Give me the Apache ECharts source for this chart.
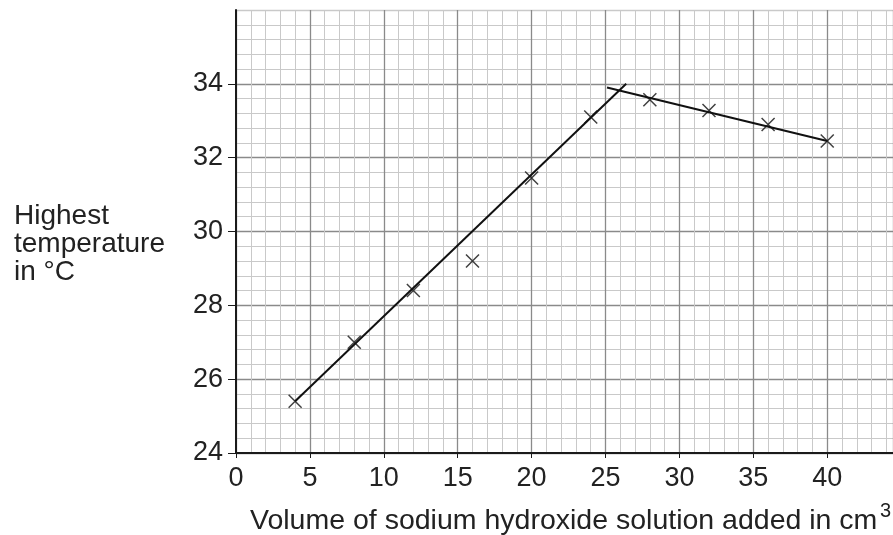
<!DOCTYPE html>
<html><head><meta charset="utf-8">
<script src="https://cdn.jsdelivr.net/npm/echarts@6/dist/echarts.min.js"></script>
<style>html,body{margin:0;padding:0;background:#fff}#c{width:893px;height:535px}</style>
</head><body><div id="c"></div>
<script>
// Measured points
const volumes = [4, 8, 12, 16, 20, 24, 28, 32, 36, 40];
const temps = [25.4, 27.0, 28.4, 29.2, 31.45, 33.1, 33.57, 33.28, 32.9, 32.45];
// Best-fit lines drawn by hand
const line1X = [4, 26.4];
const line1Y = [25.4, 34.0];
const line2X = [25.1, 40];
const line2Y = [33.9, 32.45];
const xTitle = 'Volume of sodium hydroxide solution added in cm';
const xTitleSup = '3';
const yTitle = ['Highest', 'temperature', 'in °C'];

const chart = echarts.init(document.getElementById('c'), null, {renderer: 'canvas'});
const font = 'Liberation Sans, Arial, sans-serif';
const xMax = 44.45, yMin = 24, yMax = 36;
const crossPath = 'path://M0,0L10,10M10,0L0,10';
const major = '#8a8a8a', minor = '#c9c9c9';

chart.setOption({
  animation: false,
  grid: {left: 236, right: 0, top: 10, bottom: 82, containLabel: false},
  xAxis: [
    {type: 'value', min: 0, max: xMax, interval: 1, position: 'bottom',
     axisLine: {show: false}, axisTick: {show: false}, axisLabel: {show: false},
     splitLine: {show: true, lineStyle: {color: minor, width: 1}}},
    {type: 'value', min: 0, max: xMax, interval: 5, position: 'bottom',
     axisLine: {show: true, onZero: false, lineStyle: {color: '#1a1a1a', width: 2}},
     axisTick: {show: true, length: 5, lineStyle: {color: '#1a1a1a', width: 1}},
     axisLabel: {show: true, color: '#222', fontSize: 27, fontFamily: font, margin: 12,
       showMaxLabel: false},
     splitLine: {show: true, lineStyle: {color: major, width: 1.3}}}
  ],
  yAxis: [
    {type: 'value', min: yMin, max: yMax, interval: 0.4,
     axisLine: {show: false}, axisTick: {show: false}, axisLabel: {show: false},
     splitLine: {show: true, lineStyle: {color: minor, width: 1}}},
    {type: 'value', min: yMin, max: yMax, interval: 2, position: 'left',
     axisLine: {show: true, onZero: false, lineStyle: {color: '#1a1a1a', width: 2}},
     axisTick: {show: true, length: 8, lineStyle: {color: '#1a1a1a', width: 1}},
     axisLabel: {show: true, color: '#222', fontSize: 27, fontFamily: font, margin: 13,
       showMaxLabel: false},
     splitLine: {show: true, lineStyle: {color: [major, major, major, major, major, major, minor], width: 1.3}}}
  ],
  graphic: [
    {type: 'text', x: 14, y: 202, style: {text: yTitle.join('\n'), fontSize: 28,
      fontFamily: font, fill: '#222', lineHeight: 28, verticalAlign: 'top'}},
    {type: 'text', x: 250, y: 521, style: {text: xTitle, fontSize: 28.5,
      fontFamily: font, fill: '#222', verticalAlign: 'middle'}},
    {type: 'text', x: 880, y: 511, style: {text: xTitleSup, fontSize: 20,
      fontFamily: font, fill: '#222', verticalAlign: 'middle'}}
  ],
  series: [
    {type: 'line', xAxisIndex: 1, yAxisIndex: 1, data: line1X.map((x, i) => [x, line1Y[i]]),
     symbol: 'none', lineStyle: {color: '#111', width: 2}},
    {type: 'line', xAxisIndex: 1, yAxisIndex: 1, data: line2X.map((x, i) => [x, line2Y[i]]),
     symbol: 'none', lineStyle: {color: '#111', width: 2}},
    {type: 'scatter', xAxisIndex: 1, yAxisIndex: 1, data: volumes.map((x, i) => [x, temps[i]]),
     symbol: crossPath, symbolSize: 13,
     itemStyle: {color: 'transparent', borderColor: '#111', borderWidth: 1.5}}
  ]
});
</script></body></html>
